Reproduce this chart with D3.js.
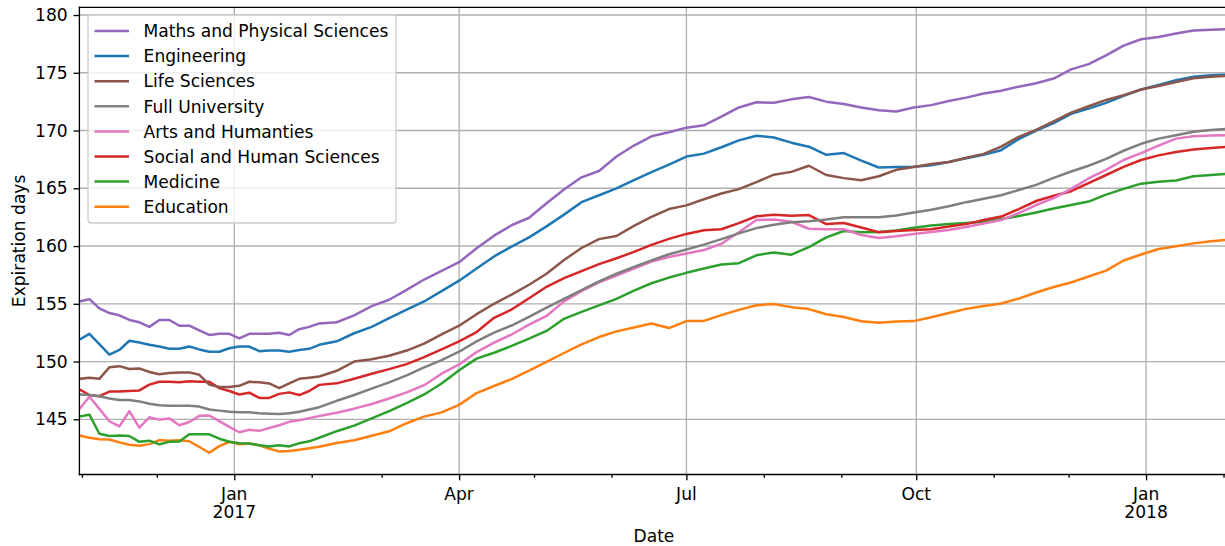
<!DOCTYPE html>
<html>
<head>
<meta charset="utf-8">
<script src="https://cdn.jsdelivr.net/npm/d3@7"></script>
<style>
  html, body { margin: 0; padding: 0; background: #ffffff; }
  svg { display: block; font-family: "DejaVu Sans", sans-serif; }
</style>
</head>
<body>
<svg id="chart" width="1225" height="546"></svg>
<script>
// ---- data: observation dates and mean expiration days per faculty ----
const dates = [
  "2016-10-31","2016-11-04","2016-11-08","2016-11-12","2016-11-16","2016-11-20","2016-11-24","2016-11-28",
  "2016-12-02","2016-12-06","2016-12-10","2016-12-14","2016-12-18","2016-12-22","2016-12-26","2016-12-30",
  "2017-01-03","2017-01-07","2017-01-11","2017-01-15","2017-01-19","2017-01-23","2017-01-27","2017-01-31",
  "2017-02-04","2017-02-11","2017-02-18","2017-02-25","2017-03-04","2017-03-11","2017-03-18","2017-03-25",
  "2017-04-01","2017-04-08","2017-04-15","2017-04-22","2017-04-29","2017-05-06","2017-05-13","2017-05-20",
  "2017-05-27","2017-06-03","2017-06-10","2017-06-17","2017-06-24","2017-07-01","2017-07-08","2017-07-15",
  "2017-07-22","2017-07-29","2017-08-05","2017-08-12","2017-08-19","2017-08-26","2017-09-02","2017-09-09",
  "2017-09-16","2017-09-23","2017-09-30","2017-10-07","2017-10-14","2017-10-21","2017-10-28","2017-11-04",
  "2017-11-11","2017-11-18","2017-11-25","2017-12-02","2017-12-09","2017-12-16","2017-12-23","2017-12-30",
  "2018-01-06","2018-01-13","2018-01-20","2018-01-27","2018-02-03"
];

const mathsPhysical = [
  155.2,155.4,154.6,154.2,154.0,153.6,153.4,153.0,153.6,153.6,153.1,153.1,152.7,152.3,152.4,152.4,
  152.0,152.4,152.4,152.4,152.5,152.3,152.8,153.0,153.3,
  153.4,154.0,154.8,155.35,156.2,157.1,157.85,158.6,159.8,160.9,161.8,162.45,163.7,164.9,165.95,166.5,
  167.75,168.7,169.5,169.85,170.25,170.45,171.2,172.0,172.45,172.4,172.7,172.9,172.5,172.3,172.0,171.75,
  171.65,172.0,172.2,172.55,172.85,173.2,173.45,173.8,174.1,174.5,175.3,175.75,176.5,177.35,177.9,178.1,
  178.4,178.67,178.73,178.77
];
const engineering = [
  151.9,152.4,151.5,150.6,151.0,151.8,151.65,151.45,151.3,151.1,151.1,151.3,151.05,150.85,150.85,151.15,
  151.3,151.3,150.9,150.95,150.95,150.85,151.0,151.1,151.45,
  151.75,152.45,153.0,153.75,154.5,155.2,156.1,157.0,158.05,159.1,159.95,160.75,161.7,162.72,163.8,164.4,
  165.0,165.7,166.4,167.05,167.75,168.0,168.55,169.15,169.55,169.4,168.95,168.6,167.9,168.05,167.4,166.8,
  166.85,166.87,167.0,167.28,167.6,167.9,168.3,169.25,170.0,170.65,171.45,171.9,172.4,173.0,173.55,173.95,
  174.35,174.65,174.78,174.84
];
const lifeSciences = [
  148.5,148.6,148.5,149.5,149.6,149.35,149.4,149.1,148.9,149.0,149.06,149.06,148.85,148.0,147.8,147.8,
  147.9,148.25,148.2,148.1,147.7,148.1,148.5,148.6,148.7,
  149.2,150.0,150.2,150.5,150.95,151.55,152.35,153.1,154.1,155.0,155.8,156.65,157.6,158.79,159.83,160.6,
  160.87,161.74,162.52,163.2,163.52,164.05,164.55,164.93,165.53,166.18,166.42,166.95,166.15,165.88,165.7,166.04,
  166.6,166.85,167.1,167.28,167.65,167.98,168.6,169.45,170.05,170.8,171.55,172.1,172.65,173.05,173.55,173.85,
  174.2,174.52,174.65,174.73
];
const fullUniversity = [
  147.15,147.1,147.0,146.8,146.67,146.67,146.55,146.35,146.22,146.17,146.17,146.17,146.1,145.85,145.75,145.65,
  145.6,145.6,145.52,145.48,145.45,145.52,145.65,145.85,146.05,
  146.6,147.1,147.65,148.2,148.8,149.5,150.12,150.85,151.75,152.5,153.12,153.86,154.67,155.43,156.18,156.94,
  157.6,158.2,158.76,159.29,159.7,160.12,160.6,161.1,161.55,161.85,162.05,162.15,162.3,162.5,162.5,162.5,
  162.65,162.9,163.15,163.45,163.8,164.1,164.4,164.85,165.3,165.9,166.45,166.95,167.55,168.25,168.85,169.3,
  169.6,169.9,170.05,170.16
];
const artsHumanities = [
  145.9,146.95,145.9,144.83,144.39,145.7,144.28,145.17,144.97,145.08,144.48,144.77,145.3,145.33,144.84,144.35,
  143.88,144.1,144.0,144.25,144.48,144.78,144.92,145.1,145.28,
  145.57,145.92,146.32,146.8,147.33,147.95,148.95,149.75,150.82,151.63,152.34,153.19,153.95,155.21,156.1,156.85,
  157.45,158.05,158.65,159.05,159.35,159.65,160.2,161.2,162.25,162.3,162.1,161.5,161.45,161.45,160.95,160.7,
  160.85,161.05,161.22,161.38,161.65,161.95,162.25,162.85,163.55,164.15,164.95,165.85,166.6,167.45,168.05,168.7,
  169.3,169.5,169.56,169.6
];
const socialHuman = [
  147.6,147.1,147.0,147.4,147.4,147.45,147.5,148.0,148.25,148.25,148.2,148.3,148.25,148.25,147.7,147.45,
  147.15,147.3,146.85,146.85,147.2,147.33,147.1,147.45,147.98,
  148.11,148.51,148.94,149.34,149.78,150.38,151.06,151.75,152.55,153.79,154.5,155.48,156.47,157.22,157.83,158.43,
  158.94,159.5,160.1,160.62,161.05,161.37,161.45,161.98,162.58,162.7,162.62,162.68,161.9,162.0,161.6,161.2,
  161.3,161.39,161.45,161.7,161.9,162.25,162.55,163.2,163.9,164.35,164.75,165.45,166.15,166.85,167.45,167.85,
  168.15,168.35,168.48,168.6
];
const medicine = [
  145.25,145.4,143.75,143.55,143.6,143.55,143.05,143.15,142.83,143.05,143.07,143.7,143.7,143.7,143.32,143.05,
  142.92,142.9,142.76,142.65,142.76,142.65,142.93,143.09,143.4,
  143.97,144.45,145.08,145.7,146.4,147.15,148.1,149.25,150.25,150.76,151.35,151.98,152.65,153.7,154.3,154.86,
  155.43,156.14,156.78,157.27,157.68,158.05,158.4,158.52,159.2,159.45,159.25,159.9,160.75,161.3,161.2,161.22,
  161.35,161.58,161.78,161.9,162.0,162.1,162.35,162.6,162.9,163.25,163.55,163.85,164.45,164.95,165.4,165.56,
  165.68,166.05,166.15,166.25
];
const education = [
  143.6,143.4,143.28,143.25,143.0,142.8,142.71,142.85,143.2,143.15,143.18,143.1,142.6,142.1,142.68,143.05,
  142.84,142.9,142.75,142.45,142.22,142.25,142.37,142.49,142.63,
  142.94,143.19,143.57,143.96,144.66,145.23,145.6,146.25,147.27,147.88,148.48,149.21,149.98,150.74,151.48,152.12,
  152.61,152.94,153.3,152.9,153.5,153.52,154.02,154.47,154.88,154.98,154.71,154.54,154.1,153.86,153.49,153.36,
  153.46,153.5,153.84,154.2,154.56,154.81,155.03,155.45,155.98,156.45,156.85,157.36,157.87,158.75,159.27,159.74,
  159.99,160.23,160.41,160.55
];

// axis ticks
const yTicks = [145, 150, 155, 160, 165, 170, 175, 180];
const monthNames = ["Jan","Feb","Mar","Apr","May","Jun","Jul","Aug","Sep","Oct","Nov","Dec"];

// series table (drawing order; legend order is given separately)
const series = [
  { name: "Engineering",                 color: "#1f77b4", values: engineering },
  { name: "Education",                   color: "#ff7f0e", values: education },
  { name: "Medicine",                    color: "#2ca02c", values: medicine },
  { name: "Social and Human Sciences",   color: "#d62728", values: socialHuman },
  { name: "Maths and Physical Sciences", color: "#9467bd", values: mathsPhysical },
  { name: "Life Sciences",               color: "#8c564b", values: lifeSciences },
  { name: "Arts and Humanties",          color: "#e377c2", values: artsHumanities },
  { name: "Full University",             color: "#7f7f7f", values: fullUniversity }
];
const legendOrder = [
  "Maths and Physical Sciences", "Engineering", "Life Sciences", "Full University",
  "Arts and Humanties", "Social and Human Sciences", "Medicine", "Education"
];

// ---- layout ----
const W = 1225, H = 546;
const plot = { left: 79.4, right: 1228.5, top: 7.3, bottom: 474.5 };
const fontSize = 17.1;

const parse = d3.timeParse("%Y-%m-%d");
const dateObjs = dates.map(parse);

const x = d3.scaleTime()
  .domain([dateObjs[0], dateObjs[dateObjs.length - 1]])
  .range([plot.left, plot.right]);
const y = d3.scaleLinear()
  .domain([140.22, 180.67])
  .range([plot.bottom, plot.top]);

const svg = d3.select("#chart");

svg.append("defs").append("clipPath").attr("id", "plotClip")
  .append("rect")
  .attr("x", plot.left).attr("y", plot.top)
  .attr("width", plot.right - plot.left).attr("height", plot.bottom - plot.top);

const monthTicks = d3.timeMonth.range(d3.timeMonth.ceil(x.domain()[0]), x.domain()[1]);
const majorTicks = monthTicks.filter(d => d.getMonth() % 3 === 0);
const minorTicks = monthTicks.filter(d => d.getMonth() % 3 !== 0);

// ---- grid ----
const grid = svg.append("g").attr("clip-path", "url(#plotClip)")
  .attr("stroke", "#b0b0b0").attr("stroke-width", 1.33);
grid.selectAll("line.gy").data(yTicks).join("line")
  .attr("x1", plot.left).attr("x2", plot.right)
  .attr("y1", d => y(d)).attr("y2", d => y(d));
grid.selectAll("line.gx").data(majorTicks).join("line")
  .attr("x1", d => x(d)).attr("x2", d => x(d))
  .attr("y1", plot.top).attr("y2", plot.bottom);

// ---- lines ----
const line = d3.line()
  .x((d, i) => x(dateObjs[i]))
  .y(d => y(d));

svg.append("g").attr("clip-path", "url(#plotClip)")
  .selectAll("path").data(series).join("path")
  .attr("d", s => line(s.values))
  .attr("fill", "none")
  .attr("stroke", s => s.color)
  .attr("stroke-width", 2.5)
  .attr("stroke-linejoin", "round")
  .attr("stroke-linecap", "square");

// ---- axes ----
const xAxisMinor = d3.axisBottom(x).tickValues(minorTicks).tickSize(3.33).tickSizeOuter(0).tickFormat("");
const xAxisMajor = d3.axisBottom(x).tickValues(majorTicks).tickSize(5.83).tickSizeOuter(0).tickFormat("");
const yAxis = d3.axisLeft(y).tickValues(yTicks).tickSize(5.83).tickSizeOuter(0).tickFormat("");

[xAxisMinor, xAxisMajor].forEach(ax => {
  const g = svg.append("g").attr("transform", `translate(0,${plot.bottom})`).call(ax);
  g.select(".domain").remove();
  g.selectAll(".tick line").attr("stroke", "#000").attr("stroke-width", 1.33);
});
const gy = svg.append("g").attr("transform", `translate(${plot.left},0)`).call(yAxis);
gy.select(".domain").remove();
gy.selectAll(".tick line").attr("stroke", "#000").attr("stroke-width", 1.33);

// y tick labels
svg.append("g").selectAll("text").data(yTicks).join("text")
  .attr("x", plot.left - 11.7)
  .attr("y", d => y(d) + 6.2)
  .attr("text-anchor", "end")
  .attr("font-size", fontSize)
  .attr("fill", "#000")
  .text(d => d);

// x tick labels (month, with year under January)
const xl = svg.append("g").selectAll("text").data(majorTicks).join("text")
  .attr("text-anchor", "middle")
  .attr("font-size", fontSize)
  .attr("fill", "#000");
xl.append("tspan")
  .attr("x", d => x(d)).attr("y", 499.5)
  .text(d => monthNames[d.getMonth()]);
xl.filter(d => d.getMonth() === 0).append("tspan")
  .attr("x", d => x(d)).attr("y", 518)
  .text(d => d.getFullYear());

// spines
const spines = svg.append("g").attr("stroke", "#000").attr("stroke-width", 1.33).attr("stroke-linecap", "square");
spines.append("line").attr("x1", plot.left).attr("x2", plot.left).attr("y1", plot.top).attr("y2", plot.bottom);
spines.append("line").attr("x1", plot.left).attr("x2", plot.right).attr("y1", plot.bottom).attr("y2", plot.bottom);
spines.append("line").attr("x1", plot.left).attr("x2", plot.right).attr("y1", plot.top).attr("y2", plot.top);
spines.append("line").attr("x1", plot.right).attr("x2", plot.right).attr("y1", plot.top).attr("y2", plot.bottom);

// axis titles
svg.append("text")
  .attr("x", (plot.left + plot.right) / 2).attr("y", 541.5)
  .attr("text-anchor", "middle").attr("font-size", fontSize).attr("fill", "#000")
  .text("Date");
svg.append("text")
  .attr("transform", `translate(25,${(plot.top + plot.bottom) / 2}) rotate(-90)`)
  .attr("text-anchor", "middle").attr("font-size", fontSize).attr("fill", "#000")
  .text("Expiration days");

// ---- legend ----
const legend = svg.append("g");
legend.append("rect")
  .attr("x", 88).attr("y", 15).attr("width", 308).attr("height", 208)
  .attr("rx", 3).attr("ry", 3)
  .attr("fill", "#ffffff").attr("fill-opacity", 0.8)
  .attr("stroke", "#cccccc").attr("stroke-width", 1.33);
const byName = new Map(series.map(s => [s.name, s]));
const items = legend.selectAll("g.item").data(legendOrder.map(n => byName.get(n))).join("g")
  .attr("transform", (d, i) => `translate(0,${31 + i * 25.1})`);
items.append("line")
  .attr("x1", 94.5).attr("x2", 129).attr("y1", 0).attr("y2", 0)
  .attr("stroke", d => d.color).attr("stroke-width", 2.5);
items.append("text")
  .attr("x", 143.6).attr("y", 6.2)
  .attr("font-size", fontSize).attr("fill", "#000")
  .text(d => d.name);
</script>
</body>
</html>
